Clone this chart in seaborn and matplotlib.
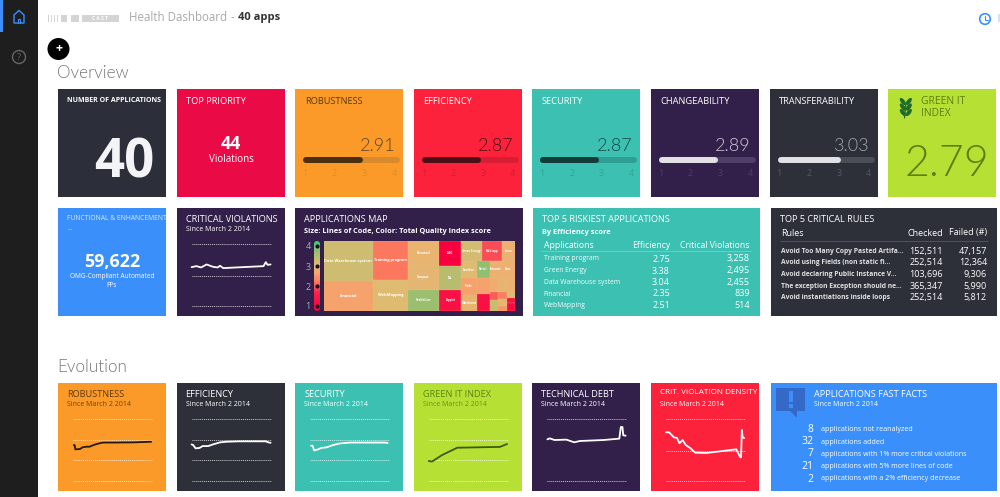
import numpy as np
import matplotlib
matplotlib.use("Agg")
import matplotlib.pyplot as plt
from matplotlib.colors import LinearSegmentedColormap
from matplotlib.patches import Rectangle, Circle, Ellipse, Polygon, FancyBboxPatch
import seaborn as sns

W, H = 1000, 497

# score cards
score_names = ["ROBUSTNESS", "EFFICIENCY", "SECURITY", "CHANGEABILITY", "TRANSFERABILITY"]
score_values = [2.91, 2.87, 2.87, 2.89, 3.03]
score_ticks = [1, 2, 3, 4]

# top 5 tables
risk_apps = ["Training program", "Green Energy", "Data Warehouse system", "Financial", "WebMapping"]
risk_eff = ["2.75", "3.38", "3.04", "2.35", "2.51"]
risk_viol = ["3,258", "2,495", "2,455", "839", "514"]
rule_names = ["Avoid Too Many Copy Pasted Artifa...", "Avoid using Fields (non static fi...",
              "Avoid declaring Public Instance V...", "The exception Exception should ne...",
              "Avoid instantiations inside loops"]
rule_checked = ["152,511", "252,514", "103,696", "365,347", "252,514"]
rule_failed = ["47,157", "12,364", "9,306", "5,990", "5,812"]

# fast facts
fact_counts = ["8", "32", "7", "21", "2"]
fact_texts = ["applications not reanalyzed", "applications added",
              "applications with 1% more critical violations",
              "applications with 5% more lines of code",
              "applications with a 2% efficiency decrease"]

# sparklines
violations_x = [0, 6, 12, 19, 27, 33, 36, 40, 57, 91, 94, 96, 100]
violations_y = [.627, .643, .622, .670, .632, .622, .649, .611, .622, .643, .708, .665, .670]
robust_x = [1, 2, 3, 9, 12, 17, 21, 26, 32, 38, 51, 77, 99]
robust_y = [2.74, 2.74, 2.53, 2.55, 2.63, 2.66, 2.66, 2.74, 2.81, 2.86, 2.86, 2.87, 2.90]
effic_x = [0, 2, 5, 10, 14, 21, 27, 36, 44, 61, 94, 97, 100]
effic_y = [2.77, 2.74, 2.58, 2.60, 2.69, 2.69, 2.77, 2.87, 2.90, 2.92, 2.92, 2.87, 2.85]
secur_x = [1, 3, 5, 10, 14, 21, 29, 38, 51, 94, 98]
secur_y = [2.71, 2.71, 2.48, 2.53, 2.60, 2.63, 2.74, 2.82, 2.86, 2.86, 2.84]
green_x = [0, 4, 17, 36, 90, 99]
green_y = [1.97, 1.94, 2.26, 2.61, 2.65, 2.79]
debt_x = [0, 3, 9, 24, 34, 41, 71, 91, 93, 95, 96, 99]
debt_y = [.672, .688, .661, .667, .624, .645, .661, .683, .871, .871, .737, .731]
density_x = [0, 4, 10, 14, 17, 21, 25, 31, 37, 51, 68, 89, 94, 95, 96, 97, 99]
density_y = [.785, .785, .704, .694, .608, .661, .581, .527, .457, .452, .478, .511, .382, .382, .823, .704, .694]

# treemap: sizes, scores, labels, then the nesting of the tiles
tile_labels = ["Data Warehouse system", "Financial", "Training program", "WebMapping", "Personnel",
               "Compass", "HealthCare", "ABC", "ML", "Applet", "Green Energy", "Multiapp", "Linux",
               "Sandbox", "Trade", "Mainframe", "Portal", "Intranet", "Docs", "", "", "", "", "",
               "", "", "", "", "", "", "", ""]
tile_sizes = [174, 133, 124, 99, 67, 70, 59, 50, 48, 42, 37, 36, 24, 24, 23, 23, 20, 18, 20, 20, 20,
              11, 11, 11, 6, 8, 5, 5, 4, 4, 4, 6]
tile_scores = [3.15, 2.6, 2.25, 3.0, 2.85, 2.9, 3.55, 1.0, 3.35, 1.4, 3.1, 2.0, 2.8, 3.0, 2.6, 2.85,
               3.6, 2.8, 2.8, 2.6, 1.4, 2.7, 2.85, 2.8, 2.1, 3.2, 2.3, 2.9, 2.5, 3.0, 1.3, 1.2]
tile_tree = [[0, 1], [2, 3], [4, 5, 6], [7, 8, 9],
             [[10, 11, 12],
              [[13, 14, 15],
               [[16, 17, 18],
                [[19, 20],
                 [[21, 22, 23],
                  [[24, 25], [26, 27, 28], [29, 30, 31]]]]]]]]

sns.set_theme(style="white")
plt.rcParams["font.family"] = ["Open Sans", "DejaVu Sans"]

tqi_cmap = LinearSegmentedColormap.from_list(
    "tqi", [(0, "#f8003f"), (.25, "#f9204c"), (.42, "#fb7a60"), (.55, "#f5a86e"), (2/3, "#dfbb72"),
            (5/6, "#a6bd6e"), (1, "#3fc97c")])

fig = plt.figure(figsize=(W / 100, H / 100), dpi=100, facecolor="white")
bg = fig.add_axes([0, 0, 1, 1])
bg.set_xlim(0, W)
bg.set_ylim(H, 0)
bg.axis("off")


def px_axes(x0, y0, x1, y1):
    ax = fig.add_axes([x0 / W, 1 - y1 / H, (x1 - x0) / W, (y1 - y0) / H])
    ax.patch.set_alpha(0)
    return ax


def label(x, y, s, size=7, color="white", ha="left", weight="normal", family=None, alpha=1):
    # text sits about a pixel high with va=center
    return bg.text(x, y + 1, s, fontsize=size, color=color, ha=ha, va="center", fontweight=weight,
                   family=family or ["Open Sans", "DejaVu Sans"], alpha=alpha)


def card(x0, y0, x1, y1, color):
    bg.add_patch(Rectangle((x0, y0), x1 - x0, y1 - y0, facecolor=color, edgecolor="none"))


def spark(cx, top, bottom, xs, ys, grid, color, grid_color="white"):
    ax = px_axes(cx + 15, top, cx + 94, bottom)
    ax.set_xlim(0, 100)
    ax.set_ylim(min(grid), max(grid))
    ax.axis("off")
    ax.hlines(grid, 0, 100, colors=grid_color, linestyles=(0, (1, 1)), linewidth=.7, alpha=.75, clip_on=False)
    sns.lineplot(x=xs, y=ys, ax=ax, color=color, linewidth=1.3, estimator=None, sort=False, clip_on=False)


def score_bar(cx, value, fill, track, tick_color):
    ax = px_axes(cx + 9.5, 157, cx + 103.5, 163)
    for end, col in [(4.1, track), (value - .05, fill)]:
        sns.lineplot(x=[1.05, end], y=[0, 0], ax=ax, color=col, linewidth=4.3,
                     solid_capstyle="round", clip_on=False)
    ax.set_xlim(1, 4.15)
    ax.set_ylim(-1, 1)
    ax.set_yticks([])
    ax.set_ylabel("")
    ax.set_xlabel("")
    ax.set_xticks(score_ticks)
    ax.set_xticklabels(score_ticks, fontsize=6.5, color=tick_color)
    ax.tick_params(axis="x", length=0, pad=4)
    sns.despine(ax=ax, left=True, bottom=True)


def node_size(node):
    if isinstance(node, int):
        return tile_sizes[node]
    return sum(node_size(c) for c in node)


def layout(node, x0, y0, x1, y1, horizontal, out):
    if isinstance(node, int):
        out.append((node, x0, y0, x1, y1))
        return
    total = node_size(node)
    pos = x0 if horizontal else y0
    for child in node:
        share = node_size(child) / total
        if horizontal:
            layout(child, pos, y0, pos + share * (x1 - x0), y1, False, out)
            pos += share * (x1 - x0)
        else:
            layout(child, x0, pos, x1, pos + share * (y1 - y0), True, out)
            pos += share * (y1 - y0)


# grid of cards
col_x = [58 + 118.6 * i for i in range(8)]
CW = 108

# sidebar and header
card(0, 0, 38, H, "#1e1e1e")
card(0, 0, 3, 32, "#3a8ffa")
bg.add_patch(Polygon([(14, 15), (19, 10.5), (24, 15), (24, 23), (14, 23)], closed=True, fill=False,
                     edgecolor="#3a8ffa", linewidth=1))
bg.plot([18, 18, 20, 20], [23, 19, 19, 23], color="#3a8ffa", lw=.8)
bg.add_patch(Circle((19, 57), 6.5, fill=False, edgecolor="#666666", linewidth=1))
label(19, 56, "?", size=6.5, color="#666666", ha="center")

for x0, x1 in [(48, 49), (51, 52), (54, 55), (57, 58), (61, 67), (71, 79), (82, 119)]:
    card(x0, 14.5, x1, 21.5, "#d4d4d4")
label(100.5, 17, "C A S T", size=3.6, ha="center", weight="bold")
label(129, 16.5, "Health Dashboard", size=8.3, color="#a9a9a9")
label(231, 16.5, "-", size=8.3, color="#a9a9a9")
label(238, 16.5, "40 apps", size=8, color="#333333", weight="bold")
bg.add_patch(Circle((985, 19), 5.3, fill=False, edgecolor="#3a8ffa", linewidth=1.2))
bg.plot([985, 985, 988], [15.5, 19.5, 19.5], color="#3a8ffa", lw=.8)
card(998, 14, 1000, 22, "#cfe3fb")
bg.add_patch(Circle((58.5, 49), 11, facecolor="black", edgecolor="none"))
label(58.5, 47.7, "+", size=9, ha="center", weight="bold")
label(57, 72, "Overview", size=12.3, color="#777777", family=["Lato", "DejaVu Sans"], weight=300)
label(57, 366, "Evolution", size=12.3, color="#777777", family=["Lato", "DejaVu Sans"], weight=300)

# row 1
card(col_x[0], 89, col_x[0] + CW, 197, "#2c2f3a")
label(67, 99, "NUMBER OF APPLICATIONS", size=5, weight="bold")
label(154.5, 163, "40", size=38, color="#f3f4f6", ha="right", weight="bold")
card(col_x[1], 89, col_x[1] + CW, 197, "#ea0a45")
label(186, 100, "TOP PRIORITY", size=6.7)
label(231, 143, "44", size=13, ha="center", weight="bold")
label(231, 158, "Violations", size=7, ha="center")

score_styles = [
    ("#fb9a28", "#4a3010", "#59452a", "#d98a2c", "#e08e28"),
    ("#fc223b", "#4a0f18", "#4a0f18", "#d71e34", "#d01d32"),
    ("#3bc0b2", "#123c38", "#124a44", "#2f9e92", "#30a596"),
    ("#32204a", "#e2e1e6", "#cfc9d8", "#4f3f66", "#4d3d66"),
    ("#2d3039", "#e2e2e6", "#a3a6ae", "#4a4e57", "#555962"),
]
title_colors = ["#5a3a10", "white", "white", "white", "white"]
for i, name in enumerate(score_names):
    cx = col_x[2 + i]
    face, fill, value_color, track, tick_color = score_styles[i]
    card(cx, 89, cx + CW, 197, face)
    label(cx + 9.5, 100, name, size=6.7, color=title_colors[i])
    label(cx + 100, 145, f"{score_values[i]:.2f}", size=13, color=value_color, ha="right",
          family=["Lato", "DejaVu Sans"], weight=300)
    score_bar(cx, score_values[i], fill, track, tick_color)

card(col_x[7], 89, col_x[7] + CW, 197, "#b6e134")
for leaf_y in [101.5, 107, 112.5]:
    bg.add_patch(Ellipse((902.8, leaf_y), 4, 8.5, angle=-38, facecolor="#1e6b2a", edgecolor="none"))
    bg.add_patch(Ellipse((908.8, leaf_y), 4, 8.5, angle=38, facecolor="#1e6b2a", edgecolor="none"))
bg.plot([905.8, 904.5], [104, 118], color="#1e6b2a", lw=.9)
label(921, 100.7, "GREEN IT", size=7.4, color="#5a7f12")
label(921, 112, "INDEX", size=7.4, color="#5a7f12")
label(989, 163, "2.79", size=31, color="#5c7f10", ha="right", family=["Lato", "DejaVu Sans"], weight=300)

# row 2
card(col_x[0], 208, col_x[0] + CW, 316, "#3a8ffa")
label(67, 217, "FUNCTIONAL & ENHANCEMENT", size=4.9, color="#d8e8ff")
label(67, 227, "...", size=5.2, color="#d8e8ff")
label(112, 261, "59,622", size=12.8, ha="center", weight="bold")
label(112, 275, "OMG-Compliant Automated", size=4.7, ha="center")
label(112, 284.5, "FPs", size=4.7, ha="center")

card(col_x[1], 208, col_x[1] + CW, 316, "#32204a")
label(186, 219, "CRITICAL VIOLATIONS", size=6.6)
label(186, 228.5, "Since March 2 2014", size=5)
spark(col_x[1], 244, 306, violations_x, violations_y, [0, .486, 1], "white")

card(col_x[2], 208, 522.7, 316, "#32204a")
label(304, 219, "APPLICATIONS MAP", size=6.6)
label(304, 230.7, "Size: Lines of Code, Color: Total Quality Index score", size=5.3, weight="bold")

legend_vals = np.linspace(4, 1, 60).reshape(-1, 1)
lax = px_axes(314, 241, 320, 311)
sns.heatmap(legend_vals, ax=lax, cmap=tqi_cmap, vmin=1, vmax=4, cbar=False, xticklabels=False, yticklabels=False)
legend_clip = FancyBboxPatch((314, 241), 6, 70, boxstyle="round,pad=0,rounding_size=3",
                             transform=bg.transData, facecolor="none", edgecolor="none")
lax.collections[0].set_clip_path(legend_clip)
for v, yy in zip(score_ticks, [305.7, 286, 266, 245.7]):
    label(308, yy, str(v), size=6.5, color="#b0a8bc", ha="center")
    lax.scatter([.5], [(yy - 241) / 70 * 60], s=9, color="#1a1020", linewidths=0, zorder=5)
lax.set_xlim(0, 1)
lax.set_ylim(60, 0)

tax = px_axes(324, 241, 515, 311)
tax.set_xlim(0, 1)
tax.set_ylim(1, 0)
tax.axis("off")
tiles = []
layout(tile_tree, 0, 0, 1, 1, True, tiles)
for idx, x0, y0, x1, y1 in tiles:
    tax.add_patch(Rectangle((x0, y0), x1 - x0, y1 - y0, facecolor=tqi_cmap((tile_scores[idx] - 1) / 3),
                            edgecolor="#e6c488", linewidth=.15))
    if tile_labels[idx]:
        tax.text((x0 + x1) / 2, (y0 + y1) / 2, tile_labels[idx], color="white",
                 fontsize=2.9 if idx < 4 else 2.0, ha="center", va="center", fontweight="bold")

card(533, 208, 760, 316, "#3bc0b2")
label(542, 219, "TOP 5 RISKIEST APPLICATIONS", size=6.6)
label(542, 231, "By Efficiency score", size=5.3, weight="bold")
label(543.5, 245, "Applications", size=6.2)
label(670, 245, "Efficiency", size=6.2, ha="right")
label(750, 245, "Critical Violations", size=6.2, ha="right")
bg.plot([541, 751], [251, 251], color="white", lw=.4, alpha=.4)
for i, yy in enumerate([258, 270, 281.5, 293, 304.5]):
    label(543.5, yy, risk_apps[i], size=4.9, alpha=.95)
    label(670, yy, risk_eff[i], size=6.5, ha="right")
    label(750, yy, risk_viol[i], size=6.5, ha="right")

card(770.7, 208, 997, 316, "#2d3039")
label(780, 219, "TOP 5 CRITICAL RULES", size=6.6)
label(781, 232, "Rules", size=6.5)
label(943, 232, "Checked", size=6.5, ha="right")
label(987, 232, "Failed (#)", size=6.5, ha="right")
bg.plot([780, 988], [241, 241], color="white", lw=.4, alpha=.3)
for i, yy in enumerate([250.5, 262, 273.5, 285, 296.5]):
    label(781, yy, rule_names[i], size=4.9, weight="bold", alpha=.85)
    label(943, yy, rule_checked[i], size=6.5, ha="right")
    label(987, yy, rule_failed[i], size=6.5, ha="right")

# row 3
evo_rows = [
    ("ROBUSTNESS", "#fb9a28", "#5a3a10", "#6a4410", robust_x, robust_y, [1, 2, 3, 4], "#2a1a05"),
    ("EFFICIENCY", "#2d3039", "white", "white", effic_x, effic_y, [1, 2, 3, 4], "white"),
    ("SECURITY", "#3bc0b2", "white", "white", secur_x, secur_y, [1, 2, 3, 4], "white"),
    ("GREEN IT INDEX", "#b6e134", "#5c8414", "#6a9020", green_x, green_y, [1, 2, 3, 4], "#3f5a10"),
    ("TECHNICAL DEBT", "#32204a", "white", "white", debt_x, debt_y, [0, 1], "white"),
]
for i, (name, face, tcol, scol, xs, ys, grid, line) in enumerate(evo_rows):
    cx = col_x[i]
    card(cx, 383, cx + CW, 491, face)
    label(cx + 9, 393.7, name, size=6.6, color=tcol)
    label(cx + 9, 403, "Since March 2 2014", size=5, color=scol)
    spark(cx, 419, 481, xs, ys, grid, line)

cx = col_x[5]
card(cx, 383, cx + CW, 491, "#fc223b")
label(cx + 9, 392, "CRIT. VIOLATION DENSITY", size=5.9)
label(cx + 9, 403, "Since March 2 2014", size=5)
spark(cx, 419, 481, density_x, density_y, [0, .49, 1], "white")

card(770.7, 383, 997, 491, "#3a8ffa")
bg.add_patch(Polygon([(776, 388), (805, 388), (805, 411), (797, 411), (797, 417.7), (790, 411), (776, 411)],
                     closed=True, facecolor="#3569c7", edgecolor="none"))
bg.add_patch(Rectangle((788.5, 391), 4, 11, facecolor="#3a8ffa", edgecolor="none"))
bg.add_patch(Rectangle((788.5, 404), 4, 4, facecolor="#3a8ffa", edgecolor="none"))
label(814, 393.7, "APPLICATIONS FAST FACTS", size=6.6)
label(814, 403, "Since March 2 2014", size=5)
for i, yy in enumerate([428.7, 441, 453, 465.5, 478]):
    label(813, yy, fact_counts[i], size=7.5, ha="right")
    label(821, yy, fact_texts[i], size=5.1)

fig.savefig("out.png", dpi=100, facecolor="white")
